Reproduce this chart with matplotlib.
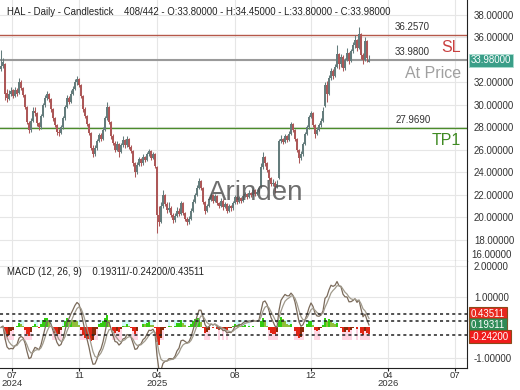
import numpy as np
import pandas as pd
import matplotlib
matplotlib.use('Agg')
import matplotlib.pyplot as plt
import matplotlib.transforms as mtransforms

plt.rcParams['font.family'] = ['Liberation Sans', 'DejaVu Sans']

# daily candles (one entry ~ 2 px)
opens = [33.2, 33.5, 33.6, 31.1, 30.5, 31.0, 31.3, 30.8, 31.3, 31.1,
         32.0, 31.5, 30.9, 29.8, 28.4, 27.8, 28.6, 29.5, 29.3, 28.4,
         28.0, 29.0, 30.0, 30.6, 31.0, 30.5, 29.6, 28.8, 28.2, 27.6,
         27.5, 28.0, 28.8, 29.8, 30.6, 30.3, 31.0, 31.4, 32.0, 32.3,
         31.8, 30.8, 29.6, 29.0, 28.3, 27.5, 26.2, 25.6, 26.2, 26.8,
         27.3, 27.0, 27.8, 28.8, 29.8, 28.5, 27.2, 26.6, 26.0, 26.5,
         25.8, 26.4, 26.9, 26.4, 27.0, 26.3, 25.9, 24.8, 24.0, 24.7,
         25.2, 24.8, 25.4, 25.1, 25.6, 25.9, 25.3, 25.6, 24.5, 20.2,
         19.6, 21.0, 22.0, 21.2, 20.7, 20.8, 20.2, 19.8, 20.1, 20.6,
         20.3, 21.3, 20.4, 19.9, 19.6, 19.9, 20.6, 21.4, 22.0, 22.6,
         23.2, 22.6, 21.4, 20.6, 21.0, 21.6, 22.0, 21.5, 21.9, 21.3,
         21.0, 21.5, 20.9, 21.2, 20.6, 21.0, 20.8, 21.3, 21.8, 21.4,
         21.7, 21.5, 21.9, 22.1, 21.8, 22.2, 22.0, 22.4, 22.1, 22.3,
         22.7, 24.5, 25.4, 24.8, 24.2, 23.5, 23.0, 23.1, 22.7, 23.5,
         26.8, 27.0, 26.7, 27.2, 26.9, 27.4, 28.3, 27.8, 27.0, 26.0,
         25.3, 25.6, 26.5, 27.4, 28.0, 28.9, 29.3, 28.2, 27.4, 27.8,
         28.2, 28.6, 29.9, 31.8, 31.0, 32.4, 33.0, 32.6, 33.4, 34.5,
         33.6, 34.3, 33.3, 34.0, 34.6, 33.9, 34.8, 35.3, 35.8, 35.1,
         36.3, 34.4, 34.0, 35.7, 33.80]
highs = [34.9, 34.2, 33.7, 31.4, 31.3, 31.6, 31.4, 31.6, 31.5, 32.4,
         32.2, 31.6, 31.0, 29.9, 28.6, 28.8, 29.8, 29.8, 29.4, 28.5,
         29.2, 30.2, 30.9, 31.2, 31.1, 30.6, 29.7, 28.9, 28.3, 27.9,
         28.2, 29.0, 30.0, 30.9, 30.8, 31.3, 31.7, 32.3, 32.6, 32.4,
         31.9, 30.9, 29.8, 29.1, 28.4, 27.6, 26.4, 26.4, 27.0, 27.5,
         27.5, 28.0, 29.0, 30.3, 29.9, 28.6, 27.4, 26.8, 26.8, 26.6,
         26.6, 27.2, 27.0, 27.2, 27.1, 26.4, 26.0, 24.9, 24.9, 25.4,
         25.3, 25.6, 25.5, 25.8, 26.1, 26.0, 25.8, 25.7, 24.6, 21.0,
         21.4, 22.4, 22.1, 21.4, 21.4, 21.0, 20.4, 20.4, 20.9, 20.8,
         21.5, 21.4, 20.5, 20.0, 20.1, 20.8, 21.6, 22.2, 22.9, 23.5,
         23.3, 22.7, 21.5, 21.2, 21.8, 22.2, 22.1, 22.1, 22.0, 21.4,
         21.7, 21.6, 21.4, 21.3, 21.2, 21.1, 21.5, 22.0, 21.9, 21.9,
         21.8, 22.1, 22.3, 22.2, 22.4, 22.3, 22.6, 22.5, 22.5, 22.8,
         24.8, 25.8, 25.5, 24.9, 24.3, 23.6, 23.4, 23.2, 23.3, 27.0,
         27.3, 27.1, 27.4, 27.3, 27.7, 28.5, 28.4, 27.9, 27.1, 26.1,
         25.9, 26.7, 27.6, 28.2, 29.1, 29.5, 29.4, 28.3, 28.0, 28.4,
         28.8, 29.8, 32.0, 32.1, 32.7, 33.3, 33.2, 33.6, 35.3, 34.6,
         34.5, 34.4, 34.2, 35.1, 34.7, 35.0, 35.6, 36.2, 35.9, 36.9,
         36.4, 34.6, 36.0, 35.8, 34.45]
lows = [33.0, 33.3, 30.4, 30.3, 30.4, 30.8, 30.6, 30.7, 30.8, 31.0,
        31.3, 30.7, 29.6, 28.3, 27.5, 27.6, 28.5, 29.0, 28.1, 27.8,
        27.9, 28.9, 29.8, 30.4, 30.3, 29.4, 28.6, 28.0, 27.3, 27.2,
        27.4, 27.9, 28.7, 29.7, 30.1, 30.2, 30.9, 31.3, 31.8, 31.6,
        30.6, 29.4, 28.8, 28.1, 27.3, 26.0, 25.4, 25.5, 26.0, 26.7,
        26.8, 26.9, 27.7, 28.7, 28.3, 27.0, 26.4, 25.8, 25.9, 25.4,
        25.7, 26.3, 26.2, 26.3, 26.1, 25.7, 24.6, 23.6, 23.9, 24.6,
        24.6, 24.7, 24.9, 25.0, 25.5, 25.1, 25.2, 24.4, 18.6, 19.2,
        19.5, 20.8, 21.0, 20.4, 20.5, 20.0, 19.5, 19.6, 20.0, 20.1,
        20.2, 20.2, 19.7, 19.3, 19.4, 19.8, 20.5, 21.3, 21.9, 22.5,
        22.4, 21.2, 20.3, 20.5, 20.9, 21.5, 21.3, 21.4, 21.1, 20.8,
        20.9, 20.7, 20.8, 20.4, 20.5, 20.6, 20.7, 21.2, 21.2, 21.3,
        21.3, 21.4, 21.8, 21.6, 21.7, 21.8, 21.9, 21.9, 22.0, 22.2,
        22.6, 24.3, 24.6, 24.0, 23.3, 22.8, 22.8, 22.2, 22.6, 23.4,
        26.6, 26.5, 26.6, 26.7, 26.8, 27.3, 27.6, 26.8, 25.8, 24.8,
        25.1, 25.5, 26.4, 27.3, 27.9, 28.8, 28.0, 27.1, 27.3, 27.7,
        28.0, 28.5, 29.8, 30.3, 30.9, 32.2, 32.3, 32.5, 33.3, 33.2,
        33.4, 33.0, 33.1, 33.9, 33.6, 33.8, 34.6, 35.1, 34.8, 35.0,
        34.1, 33.6, 33.9, 33.8, 33.80]
closes = [33.5, 33.8, 31.0, 30.6, 31.0, 31.2, 30.8, 31.3, 31.0, 32.0,
          31.5, 30.9, 29.8, 28.5, 27.8, 28.6, 29.5, 29.3, 28.4, 28.0,
          29.0, 30.0, 30.6, 31.0, 30.5, 29.6, 28.8, 28.2, 27.6, 27.5,
          28.0, 28.8, 29.8, 30.6, 30.3, 31.0, 31.4, 32.0, 32.3, 31.8,
          30.8, 29.6, 29.0, 28.3, 27.5, 26.2, 25.6, 26.2, 26.8, 27.3,
          27.0, 27.8, 28.8, 29.8, 28.5, 27.2, 26.6, 26.0, 26.5, 25.8,
          26.4, 26.9, 26.4, 27.0, 26.3, 25.9, 24.8, 24.0, 24.7, 25.2,
          24.8, 25.4, 25.1, 25.6, 25.9, 25.3, 25.6, 24.6, 20.2, 19.6,
          21.0, 22.0, 21.2, 20.7, 20.8, 20.2, 19.8, 20.1, 20.6, 20.3,
          21.3, 20.4, 19.9, 19.6, 19.9, 20.6, 21.4, 22.0, 22.6, 23.2,
          22.6, 21.4, 20.6, 21.0, 21.6, 22.0, 21.5, 21.9, 21.3, 21.0,
          21.5, 20.9, 21.2, 20.6, 21.0, 20.8, 21.3, 21.8, 21.4, 21.7,
          21.5, 21.9, 22.1, 21.8, 22.2, 22.0, 22.4, 22.1, 22.3, 22.6,
          24.5, 25.4, 24.8, 24.2, 23.5, 23.0, 23.1, 22.7, 23.0, 26.8,
          27.0, 26.7, 27.2, 26.9, 27.4, 28.3, 27.8, 27.0, 26.0, 25.3,
          25.6, 26.5, 27.4, 28.0, 28.9, 29.3, 28.2, 27.4, 27.8, 28.2,
          28.6, 29.5, 31.8, 31.0, 32.4, 33.0, 32.6, 33.4, 34.5, 33.6,
          34.3, 33.3, 34.0, 34.6, 33.9, 34.8, 35.3, 35.8, 35.1, 36.3,
          34.4, 34.0, 35.7, 34.2, 33.98]

tick_labels = ['07\n2024', '11', '04\n2025', '08', '12', '04\n2026', '07']
tick_pos = [5.5, 39, 78, 117, 155, 193.5, 227]

sl_level = 36.257
at_price = 33.98
tp_level = 27.969
macd_vals = [0.43511, 0.19311, -0.24200]  # hist / macd / signal shown at right

title = ('HAL - Daily - Candlestick    408/442 - O:33.80000 - H:34.45000 '
         '- L:33.80000 - C:33.98000')
macd_title = 'MACD (12, 26, 9)    0.19311/-0.24200/0.43511'

o = np.array(opens)
h = np.array(highs)
l = np.array(lows)
c = np.array(closes)
x = np.arange(len(c))


def ema(vals, span, step=2.2):
    # each candle here covers ~2.2 trading days
    a = 1 - (1 - 2.0 / (span + 1)) ** step
    return pd.Series(vals).ewm(alpha=a, adjust=False).mean().values


macd = ema(c, 12) - ema(c, 26)
signal = ema(macd, 9)
hist = macd - signal

fig = plt.figure(figsize=(5.2, 3.9), dpi=100)
ax = fig.add_axes([0, 0.3308, 0.8981, 0.6692])
ax2 = fig.add_axes([0, 0.0564, 0.8981, 0.2744], sharex=ax)

# --- price panel
up = c >= o
col = np.where(up, '#647c7c', '#ad5858')
ax.vlines(x, l, h, colors=col, lw=0.75, zorder=3)
ax.bar(x, np.maximum(np.abs(c - o), 0.05), bottom=np.minimum(o, c),
       width=0.65, color=col, lw=0, zorder=3)

ax.axhline(sl_level, color='#b5584a', lw=1, zorder=2)
ax.axhline(at_price, color='#9a9a9a', lw=1.5, zorder=2)
ax.axhline(tp_level, color='#4b8b2b', lw=1, zorder=2)

bl = mtransforms.blended_transform_factory(ax.transAxes, ax.transData)
ax.text(0.846, sl_level + 0.25, '%.4f' % sl_level, transform=bl, fontsize=7,
        color='#333333', va='bottom')
ax.text(0.846, at_price + 0.25, '%.4f' % at_price, transform=bl, fontsize=7,
        color='#333333', va='bottom')
ax.text(0.846, tp_level + 0.25, '%.4f' % tp_level, transform=bl, fontsize=7,
        color='#333333', va='bottom')
ax.text(0.987, 35.07, 'SL', transform=bl, fontsize=11.5, color='#c94040',
        ha='right', va='center')
ax.text(0.987, 32.76, 'At Price', transform=bl, fontsize=11.5, color='#a0a0a0',
        ha='right', va='center')
ax.text(0.987, 26.8, 'TP1', transform=bl, fontsize=11.5, color='#3f8a22',
        ha='right', va='center')

ax.text(0.015, 0.954, title, transform=ax.transAxes, fontsize=6.9,
        color='#222222', va='center')
fig.text(0.492, 0.505, 'Arinden', fontsize=20, color='#555555', alpha=0.85,
         ha='center', va='center')

ax.set_xlim(-0.5, 233)
ax.set_ylim(16.133, 39.333)
ax.yaxis.tick_right()
yt = np.arange(18, 39, 2)
ax.set_yticks(yt)
# 34 sits under the current-price box
ax.set_yticklabels(['' if v == 34 else '%.5f' % v for v in yt])
br = mtransforms.blended_transform_factory(ax.transAxes, ax.transData)
ax.text(1.01, 16.67, '16.00000', transform=br, fontsize=7, color='#333333',
        va='center')
ax.text(1.008, at_price, '%.5f' % at_price, transform=br, fontsize=7,
        color='white', va='center', zorder=5,
        bbox=dict(facecolor='#3a9e88', edgecolor='#a8ddd0', pad=1.2, lw=0.6))
ax.tick_params(axis='y', length=0, pad=5, labelsize=7, labelcolor='#333333')
ax.tick_params(axis='x', length=0, labelbottom=False)
ax.set_xticks(tick_pos)
ax.grid(True, color='#e6e6e6', lw=0.8)
ax.set_axisbelow(True)
for s in ['left', 'top']:
    ax.spines[s].set_visible(False)
ax.spines['right'].set_color('#222222')
ax.spines['bottom'].set_color('#222222')

# --- MACD panel
prev = np.concatenate([[0.0], hist[:-1]])
rising = hist >= prev
hcol = np.where(hist >= 0, np.where(rising, '#33cc11', '#8fbf3a'),
                np.where(rising, '#8b2a0a', '#e02414'))
band = np.where(hist >= 0, 0.25, -0.4)
bcol = np.where(hist >= 0, '#d2fafa', '#ffd6e4')
big = np.abs(hist) > 0.04
ax2.bar(x[big], band[big], width=1.0, color=bcol[big], lw=0, zorder=1)
ax2.bar(x, hist, width=1.0, color=hcol, lw=0, zorder=2)
ax2.plot(x, macd, color='#7a6a5a', lw=0.9, zorder=3)
ax2.plot(x, signal, color='#a09a8c', lw=0.9, zorder=3)
for v in macd_vals:
    ax2.axhline(v, color='#222222', lw=1.1, ls=(0, (2, 2)), zorder=4)

b2 = mtransforms.blended_transform_factory(ax2.transAxes, ax2.transData)
ax2.text(1.008, 0.435, '0.43511', transform=b2, fontsize=7, color='white',
         va='center', bbox=dict(facecolor='#e8281e', edgecolor='#8b4a1a',
                                pad=1.2, lw=0.8))
ax2.text(1.008, 0.08, '0.19311', transform=b2, fontsize=7, color='white',
         va='center', bbox=dict(facecolor='#2e8b57', edgecolor='#7a5a2a',
                                pad=1.2, lw=0.8))
ax2.text(1.008, -0.30, '-0.24200', transform=b2, fontsize=7, color='white',
         va='center', bbox=dict(facecolor='#f01c1c', edgecolor='#8b4a1a',
                                pad=1.2, lw=0.8))
ax2.text(0.015, 0.9, macd_title, transform=ax2.transAxes, fontsize=6.9,
         color='#222222', va='center')

ax2.set_ylim(-1.32, 2.16)
ax2.yaxis.tick_right()
ax2.set_yticks([-1, 1, 2])
ax2.set_yticklabels(['-1.00000', '1.00000', '2.00000'])
ax2.tick_params(axis='y', length=0, pad=5, labelsize=7, labelcolor='#333333')
ax2.set_xticks(tick_pos)
ax2.set_xticklabels(tick_labels, linespacing=0.85)
ax2.tick_params(axis='x', length=2, pad=0.5, labelsize=6.8,
                labelcolor='#333333', color='#222222')
ax2.grid(True, color='#e6e6e6', lw=0.8)
ax2.set_axisbelow(True)
for s in ['left', 'top']:
    ax2.spines[s].set_visible(False)
ax2.spines['right'].set_color('#222222')
ax2.spines['bottom'].set_color('#222222')

fig.savefig('out.png', dpi=100)
